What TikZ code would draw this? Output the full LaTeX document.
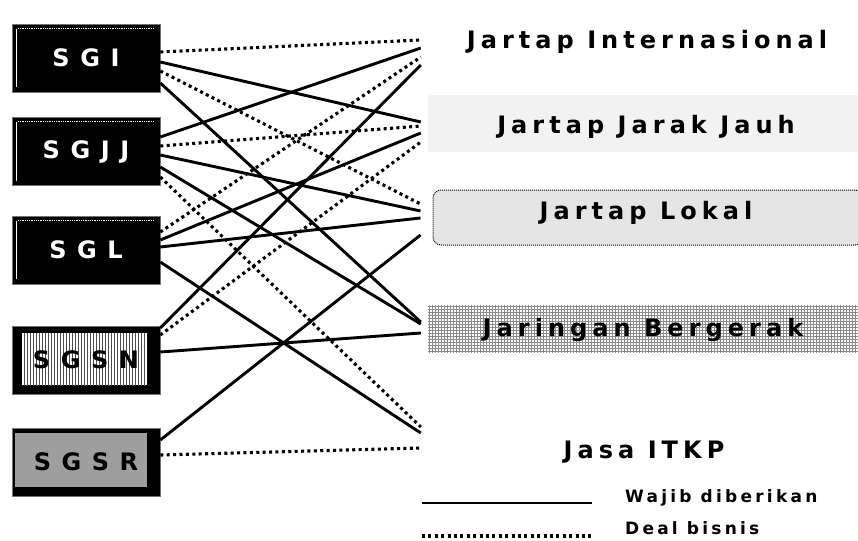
\documentclass[tikz,border=0pt]{standalone}
\usepackage{fontspec}
\newfontfamily\boxfont{DejaVu Sans}[LetterSpace=44]
\newfontfamily\catfont{DejaVu Sans}[LetterSpace=21]
\newfontfamily\keyfont{DejaVu Sans}[LetterSpace=19]
\usetikzlibrary{calc,patterns}
\begin{document}
\begin{tikzpicture}[x=1pt,y=-1pt,
  wajib/.style={line width=2.9pt},
  deal/.style={line width=3.1pt, dash pattern=on 3pt off 3.4pt},
  gbox/.style={minimum width=148pt, minimum height=68pt, inner sep=0pt,
    fill=black, draw=black!55, line width=0.6pt,
    font=\boxfont\bfseries\fontsize{24}{24}\selectfont},
  darkbox/.style={gbox, text=white,
    path picture={
      \draw[white, line width=1pt]
        ($(path picture bounding box.south west)+(4,-5)$) --
        ($(path picture bounding box.north west)+(4,5)$);
      \draw[white, line width=0.8pt, densely dotted]
        ($(path picture bounding box.north west)+(6,4)$) --
        ($(path picture bounding box.north east)+(-6,4)$);}},
  stripebox/.style={gbox, text=black,
    path picture={
      \fill[white] ($(path picture bounding box.north west)+(10,7)$) rectangle
        ($(path picture bounding box.south east)+(-13,-9)$);
      \fill[pattern=vertical lines, pattern color=black!70]
        ($(path picture bounding box.north west)+(10,7)$) rectangle
        ($(path picture bounding box.south east)+(-13,-9)$);}},
  checkbox/.style={gbox, text=black,
    path picture={
      \fill[black!38] ($(path picture bounding box.north west)+(3,5)$) rectangle
        ($(path picture bounding box.south east)+(-13,-9)$);}},
  target/.style={minimum width=430pt, inner sep=0pt},
  catlabel/.style={inner sep=0pt, font=\catfont\bfseries\fontsize{24}{24}\selectfont},
  keylabel/.style={inner sep=0pt, anchor=west, font=\keyfont\bfseries\fontsize{17}{17}\selectfont}
]
\useasboundingbox (0,0) rectangle (858,540);

% service categories on the right (textured bands are the connector targets)
\node[target, minimum height=40pt] (int) at (643,42) {};
\node[target, minimum height=57pt, fill=black!5] (jj) at (643,123.5) {};
\node[target, minimum height=55pt, fill=black!10, draw=black, densely dotted,
      line width=1pt, rounded corners=8pt] (lok) at (648,217.5) {};
\node[target, minimum height=47pt, pattern=grid, pattern color=black!45] (ber) at (643,328.5) {};
\node[target, minimum height=40pt] (itkp) at (643,452) {};

\node[catlabel] (intt) at (647,42) {Jartap Internasional};
\node[catlabel] (jjt) at (646,127) {Jartap Jarak Jauh};
\node[catlabel] (lokt) at (646,213) {Jartap Lokal};
\node[catlabel] (bert) at (643,330) {Jaringan Bergerak};
\node[catlabel] (itkpt) at (644,452) {Jasa ITKP};

% license holders on the left
\node[darkbox] (sgi) at (86,58) {SGI};
\node[darkbox] (sgjj) at (86,151.5) {SGJJ};
\node[darkbox] (sgl) at (86,250) {SGL};
\node[stripebox] (sgsn) at (86,360) {SGSN};
\node[checkbox] (sgsr) at (86,462) {SGSR};

% SGI
\draw[deal]  ($(sgi.east)+(0,-6)$) -- ($(int.west)+(-7,-2)$);
\draw[wajib] ($(sgi.east)+(0,4)$)  -- ($(jj.west)+(-7,-1.5)$);
\draw[deal]  ($(sgi.east)+(0,13)$) -- ($(lok.west)+(-12,-13.5)$);
\draw[wajib] ($(sgi.east)+(0,25)$) -- ($(ber.west)+(-7,-6.5)$);
% SGJJ
\draw[wajib] ($(sgjj.east)+(0,-14.5)$) -- ($(int.west)+(-7,6)$);
\draw[deal]  ($(sgjj.east)+(0,-5.5)$)  -- ($(jj.west)+(-7,2.5)$);
\draw[wajib] ($(sgjj.east)+(0,3.5)$)   -- ($(lok.west)+(-12,-6.5)$);
\draw[wajib] ($(sgjj.east)+(0,15.5)$)  -- ($(ber.west)+(-7,-4.5)$);
\draw[deal]  ($(sgjj.east)+(0,25.5)$)  -- ($(itkp.west)+(-7,-25)$);
% SGL
\draw[deal]  ($(sgl.east)+(0,-18)$) -- ($(int.west)+(-7,15)$);
\draw[wajib] ($(sgl.east)+(0,-10)$) -- ($(jj.west)+(-7,9.5)$);
\draw[wajib] ($(sgl.east)+(0,-3)$)  -- ($(lok.west)+(-12,0.5)$);
\draw[wajib] ($(sgl.east)+(0,12)$)  -- ($(itkp.west)+(-7,-19)$);
% SGSN
\draw[wajib] ($(sgsn.east)+(0,-32)$) -- ($(int.west)+(-7,23)$);
\draw[deal]  ($(sgsn.east)+(0,-25)$) -- ($(jj.west)+(-7,18.5)$);
\draw[wajib] ($(sgsn.east)+(0,-8)$)  -- ($(ber.west)+(-7,4.5)$);
% SGSR
\draw[wajib] ($(sgsr.east)+(0,-22)$) -- ($(lok.west)+(-12,17.5)$);
\draw[deal]  ($(sgsr.east)+(0,-7)$)  -- ($(itkp.west)+(-7,-4)$);

% legend
\coordinate (k1a) at (422,503);
\coordinate (k1b) at (592,503);
\coordinate (k2a) at (422,536);
\coordinate (k2b) at (592,536);
\draw[wajib] (k1a) -- (k1b);
\draw[deal] (k2a) -- (k2b);
\node[keylabel] (k1) at (625,498) {Wajib diberikan};
\node[keylabel] (k2) at (625,528) {Deal bisnis};
\end{tikzpicture}
\end{document}
